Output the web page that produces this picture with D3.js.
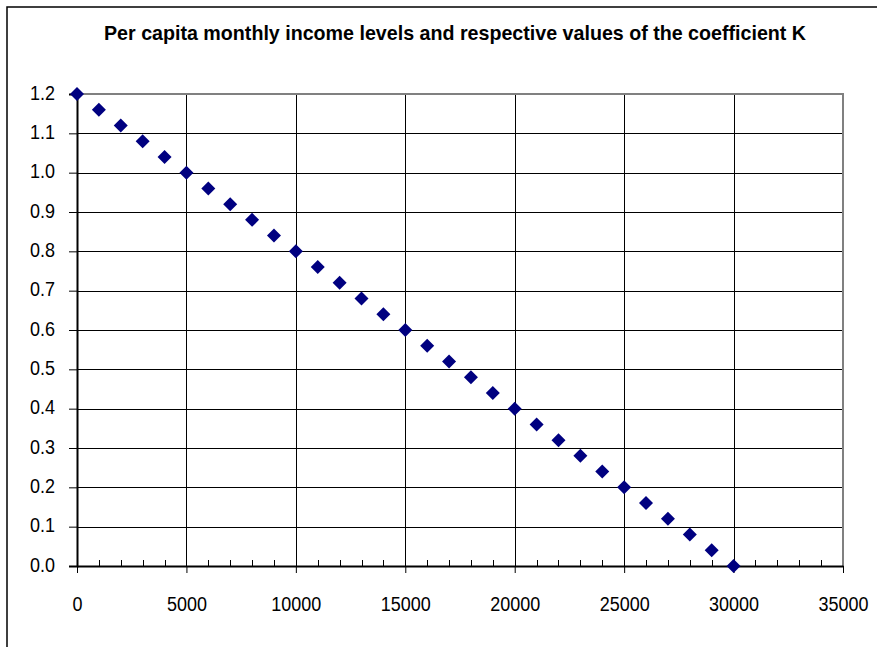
<!DOCTYPE html>
<html><head><meta charset="utf-8">
<script src="https://cdn.jsdelivr.net/npm/d3@7"></script>
<style>body{margin:0;background:#fff}svg{display:block}</style>
</head><body>
<svg id="c" width="877" height="647"></svg>
<script>
const title = "Per capita monthly income levels and respective values of the coefficient K";
const incomes = [0,1000,2000,3000,4000,5000,6000,7000,8000,9000,10000,11000,12000,13000,14000,15000,16000,17000,18000,19000,20000,21000,22000,23000,24000,25000,26000,27000,28000,29000,30000];
const kValues = [1.2,1.16,1.12,1.08,1.04,1.0,0.96,0.92,0.88,0.84,0.8,0.76,0.72,0.68,0.64,0.6,0.56,0.52,0.48,0.44,0.4,0.36,0.32,0.28,0.24,0.2,0.16,0.12,0.08,0.04,0.0];
const xTicks = [0,5000,10000,15000,20000,25000,30000,35000];
const xMinorTicks = [1000,2000,3000,4000,6000,7000,8000,9000,11000,12000,13000,14000,16000,17000,18000,19000,21000,22000,23000,24000,26000,27000,28000,29000,31000,32000,33000,34000];
const yTicks = [0,0.1,0.2,0.3,0.4,0.5,0.6,0.7,0.8,0.9,1.0,1.1,1.2];

const svg = d3.select("#c");
const L = 77, R = 843, T = 94, B = 566;
const x = d3.scaleLinear().domain([0,35000]).range([L,R]);
const y = d3.scaleLinear().domain([0,1.2]).range([B,T]);
const font = "'Liberation Sans', Arial, sans-serif";
const tl = s => s.replace(/\./g,"").length*10 + (s.includes(".")?5:0);

// outer frame
svg.append("rect").attr("x",7).attr("y",7).attr("width",1000).attr("height",1000)
  .attr("fill","none").attr("stroke","#000").attr("stroke-width",1.5);

// title
svg.append("text").attr("x",455).attr("y",40).attr("text-anchor","middle")
  .attr("font-family",font).attr("font-size",21).attr("font-weight","bold").attr("fill","#000")
  .attr("textLength",702).attr("lengthAdjust","spacingAndGlyphs").text(title);

// grid
const g = svg.append("g");
g.selectAll(".hg").data(yTicks.filter(v=>v>0 && v<1.2)).enter().append("line")
  .attr("x1",L).attr("x2",R).attr("y1",d=>Math.round(y(d))+0.5).attr("y2",d=>Math.round(y(d))+0.5)
  .attr("stroke","#000").attr("stroke-width",1);
g.selectAll(".vg").data(xTicks.filter(v=>v>0 && v<35000)).enter().append("line")
  .attr("y1",T).attr("y2",B).attr("x1",d=>Math.round(x(d))+0.5).attr("x2",d=>Math.round(x(d))+0.5)
  .attr("stroke","#000").attr("stroke-width",1);

// gray plot border top/right
svg.append("path").attr("d",`M${L},${T}H${R}V${B}`).attr("fill","none")
  .attr("stroke","#808080").attr("stroke-width",2);

// y axis
const yAxis = d3.axisLeft(y).tickValues(yTicks).tickFormat(d3.format(".1f")).tickSize(8).tickPadding(14);
const ya = svg.append("g").attr("transform",`translate(${L},0)`).call(yAxis);
ya.select(".domain").attr("stroke","#000").attr("stroke-width",2);
ya.selectAll(".tick line").attr("stroke","#000");
ya.selectAll("text").attr("font-family",font).attr("font-size",20.5).attr("fill","#000").attr("dy","0.25em")
  .attr("textLength",function(){return tl(this.textContent);}).attr("lengthAdjust","spacingAndGlyphs");

// x axis
const xAxis = d3.axisBottom(x).tickValues(xTicks).tickFormat(d3.format("d")).tickSizeInner(7).tickSizeOuter(0).tickPadding(23);
const xa = svg.append("g").attr("transform",`translate(0,${B})`).call(xAxis);
xa.select(".domain").attr("stroke","#000").attr("stroke-width",2);
xa.selectAll(".tick line").attr("stroke","#000");
xa.selectAll("text").attr("font-family",font).attr("font-size",20.5).attr("fill","#000").attr("dy","0.71em")
  .attr("textLength",function(){return tl(this.textContent);}).attr("lengthAdjust","spacingAndGlyphs");
// minor ticks inside
xa.selectAll(".minor").data(xMinorTicks).enter().append("line")
  .attr("x1",d=>Math.round(x(d))+0.5).attr("x2",d=>Math.round(x(d))+0.5).attr("y1",0).attr("y2",-6)
  .attr("stroke","#000").attr("stroke-width",1);

// markers
const diamond = "M0,-7L7,0L0,7L-7,0Z";
svg.append("g").selectAll("path").data(incomes.map((v,i)=>[v,kValues[i]])).enter().append("path")
  .attr("d",diamond).attr("transform",d=>`translate(${x(d[0])},${y(d[1])})`)
  .attr("fill","#000080");
</script>
</body></html>
